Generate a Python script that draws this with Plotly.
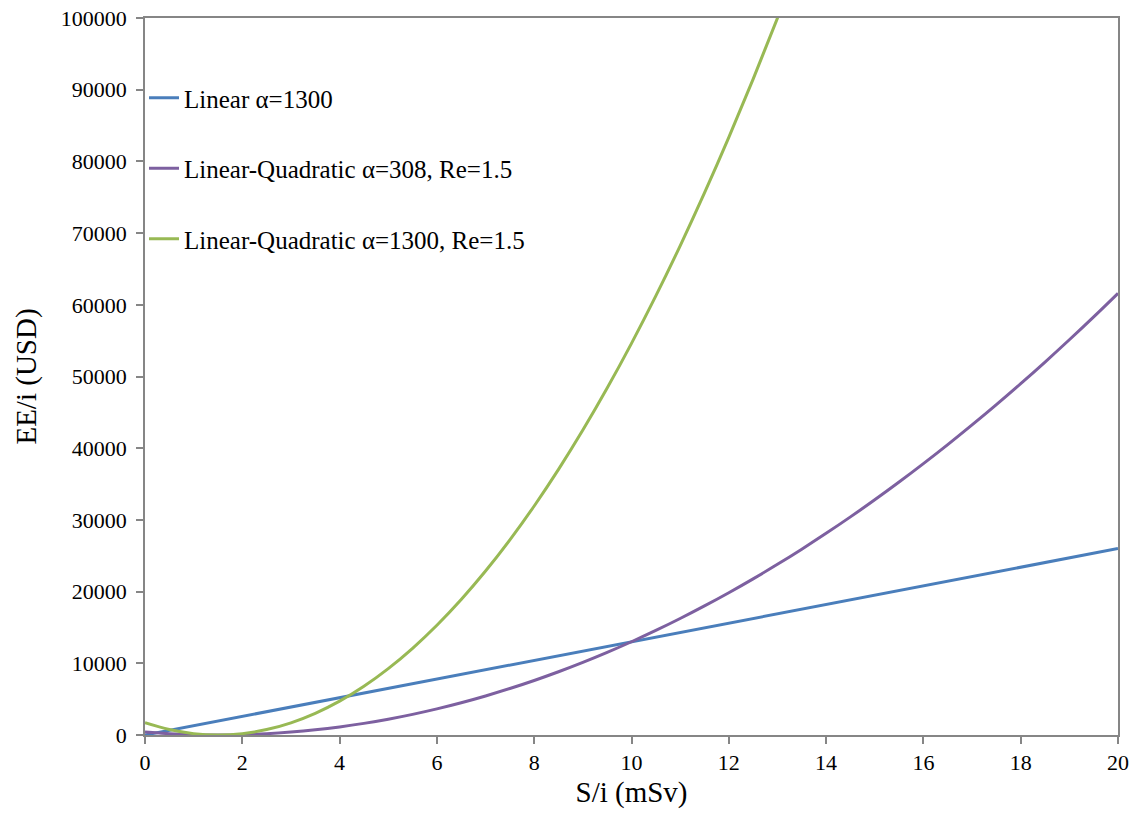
import plotly.graph_objects as go

# Dose per individual S/i (mSv)
x_vals = [0, 0.5, 1, 1.5, 2, 2.5, 3, 3.5, 4, 4.5, 5, 5.5, 6, 6.5, 7, 7.5, 8, 8.5, 9, 9.5,
          10, 10.5, 11, 11.5, 12, 12.5, 13, 13.5, 14, 14.5, 15, 15.5, 16, 16.5, 17, 17.5,
          18, 18.5, 19, 19.5, 20]

linear_x = [0, 20]
linear_y = [0, 26000]

lq308_y = [405, 180, 45, 0, 45, 180, 405, 720, 1125, 1620, 2205, 2880, 3645, 4500, 5445,
           6480, 7605, 8820, 10125, 11520, 13005, 14580, 16245, 18000, 19845, 21780, 23805,
           25920, 28125, 30420, 32805, 35280, 37845, 40500, 43245, 46080, 49005, 52020,
           55125, 58320, 61605]

lq1300_x = x_vals[:28]
lq1300_y = [1701, 756, 189, 0, 189, 756, 1701, 3024, 4725, 6804, 9261, 12096, 15309, 18900,
            22869, 27216, 31941, 37044, 42525, 48384, 54621, 61236, 68229, 75600, 83349,
            91476, 99981, 108864]

x_ticks = [0, 2, 4, 6, 8, 10, 12, 14, 16, 18, 20]
y_ticks = [0, 10000, 20000, 30000, 40000, 50000, 60000, 70000, 80000, 90000, 100000]

names = ["Linear α=1300", "Linear-Quadratic α=308, Re=1.5", "Linear-Quadratic α=1300, Re=1.5"]
colors = ["#4a7ebb", "#7d60a0", "#98b954"]

SERIF = "Times New Roman, Liberation Serif, serif"

fig = go.Figure()
fig.add_trace(go.Scatter(x=linear_x, y=linear_y, mode="lines", name=names[0],
                         legendgroup="a", line=dict(color=colors[0], width=3)))
fig.add_trace(go.Scatter(x=x_vals, y=lq308_y, mode="lines", name=names[1],
                         legendgroup="b", line=dict(color=colors[1], width=3, shape="spline")))
fig.add_trace(go.Scatter(x=lq1300_x, y=lq1300_y, mode="lines", name=names[2],
                         legendgroup="c", line=dict(color=colors[2], width=3, shape="spline")))

axis_common = dict(showgrid=False, zeroline=False, showline=True, linecolor="#868686",
                   linewidth=1.5, mirror=True, ticks="outside", tickcolor="#868686",
                   ticklen=7, tickwidth=1.5, automargin=False,
                   tickfont=dict(family=SERIF, size=22, color="black"))

fig.update_layout(
    width=1136, height=816,
    margin=dict(l=145, r=18, t=18, b=81),
    paper_bgcolor="white", plot_bgcolor="white",
    font=dict(family=SERIF, color="black"),
    xaxis=dict(range=[0, 20], tickvals=x_ticks,
               title=dict(text="S/i (mSv)", font=dict(family=SERIF, size=29, color="black"),
                          standoff=8), **axis_common),
    yaxis=dict(range=[0, 100000], tickvals=y_ticks, tickformat="d", ticklabelstandoff=5,
               title=dict(text="EE/i (USD)", font=dict(family=SERIF, size=29, color="black"),
                          standoff=16), **axis_common),
    legend=dict(x=-0.001, y=0.9205, xanchor="left", yanchor="top", bgcolor="rgba(0,0,0,0)",
                font=dict(family=SERIF, size=25, color="black"),
                traceorder="grouped", tracegroupgap=35, itemwidth=30),
    showlegend=True,
)

fig.write_html("out.html")
